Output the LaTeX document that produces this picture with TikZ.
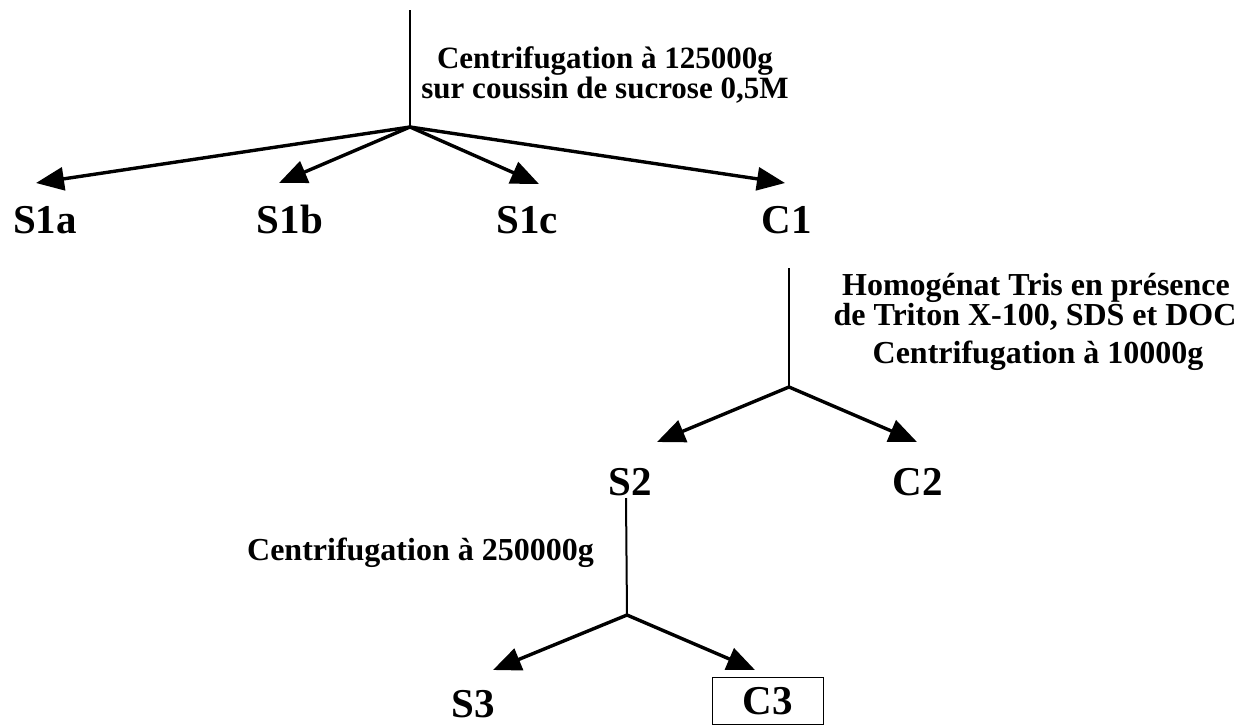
\documentclass[tikz,border=0pt]{standalone}
\usepackage{fontspec}
\setmainfont{Liberation Serif}
\usetikzlibrary{arrows.meta}
\begin{document}
\begin{tikzpicture}[x=1pt,y=-1pt,
  frac/.style={font=\fontsize{41}{41}\selectfont\bfseries, inner sep=0pt, anchor=base},
  note/.style={font=\fontsize{32}{32}\selectfont\bfseries, inner sep=0pt, anchor=base},
  notesmall/.style={font=\fontsize{31}{31}\selectfont\bfseries, inner sep=0pt, anchor=base},
  branch/.style={line width=3.4pt, -{Triangle[length=28pt,width=23pt]}},
  stem/.style={line width=2pt}]
\useasboundingbox (0,0) rectangle (1253,726);

% ---- first centrifugation
\coordinate (top1) at (410,10);
\coordinate (j1) at (410,127);
\draw[stem] (top1) -- (j1);
\node[notesmall] (n1a) at (605,68) {Centrifugation à 125000g};
\node[notesmall] (n1b) at (605,98) {sur coussin de sucrose 0,5M};

\node[frac] (S1a) at (45,233) {S1a};
\node[frac] (S1b) at (290,233) {S1b};
\node[frac] (S1c) at (527,233) {S1c};
\node[frac] (C1) at (787,233) {C1};
\coordinate (t1a) at (36,183);
\coordinate (t1b) at (279,183);
\coordinate (t1c) at (539,184);
\coordinate (t1d) at (785,183);
\draw[branch] (j1) -- (t1a);
\draw[branch] (j1) -- (t1b);
\draw[branch] (j1) -- (t1c);
\draw[branch] (j1) -- (t1d);

% ---- second step
\coordinate (top2) at (789,268);
\coordinate (j2) at (789,387);
\draw[stem] (top2) -- (j2);
\node[note] (n2a) at (1036,295) {Homogénat Tris en présence};
\node[note] (n2b) at (1035,325) {de Triton X-100, SDS et DOC};
\node[note] (n2c) at (1038,363) {Centrifugation à 10000g};

\node[frac] (S2) at (630,495) {S2};
\node[frac] (C2) at (918,495) {C2};
\coordinate (t2a) at (657,442);
\coordinate (t2b) at (917,442);
\draw[branch] (j2) -- (t2a);
\draw[branch] (j2) -- (t2b);

% ---- third step
\coordinate (top3) at (626,498);
\coordinate (j3) at (627,615);
\draw[stem] (top3) -- (j3);
\node[note, anchor=base east] (n3) at (594,560) {Centrifugation à 250000g};

\node[frac] (S3) at (473,717) {S3};
\node[font=\fontsize{41}{41}\selectfont\bfseries, draw, line width=1.6pt, inner sep=0pt,
      minimum width=111pt, minimum height=47pt] (C3) at (768,701) {C3};
\coordinate (t3a) at (493,670);
\coordinate (t3b) at (755,670);
\draw[branch] (j3) -- (t3a);
\draw[branch] (j3) -- (t3b);
\end{tikzpicture}
\end{document}
